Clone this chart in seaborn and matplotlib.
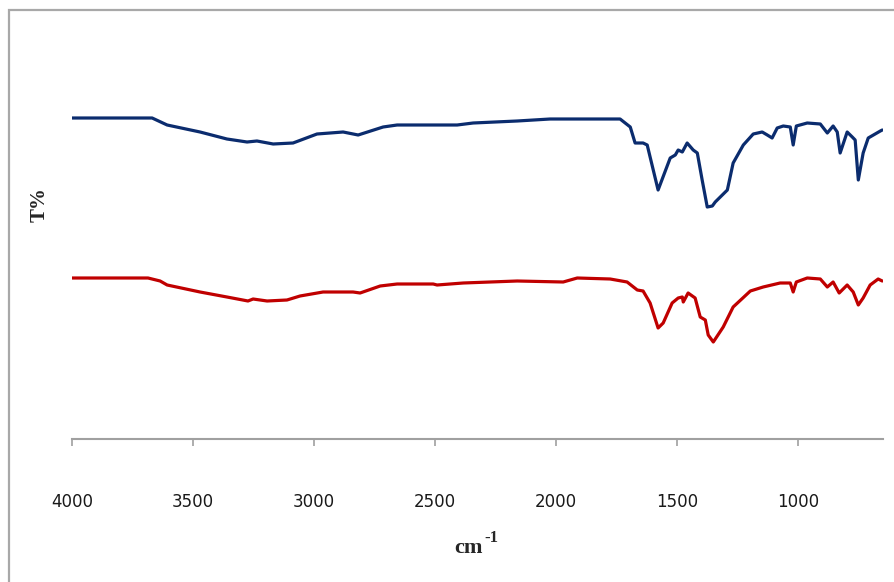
import matplotlib
matplotlib.use("Agg")
import matplotlib.pyplot as plt
import seaborn as sns
from matplotlib.patches import Rectangle

sns.set_theme(style="white")
plt.rcParams['font.family'] = ['DejaVu Sans']

# Upper (blue) spectrum: wavenumber (cm-1) and T (arbitrary offset units)
blue_wn = [4000, 3669, 3607, 3471, 3360, 3277, 3236, 3169, 3087, 2988, 2880, 2818,
           2715, 2657, 2409, 2343, 2161, 2025, 1901, 1736, 1694, 1674, 1641, 1624,
           1579, 1529, 1508, 1496, 1479, 1459, 1434, 1417, 1397, 1376, 1355, 1343,
           1293, 1269, 1227, 1186, 1149, 1128, 1108, 1087, 1062, 1033, 1021, 1008,
           963, 909, 880, 856, 839, 827, 798, 777, 765, 752, 732, 711, 661, 653]
blue_t = [80.25, 80.25, 78.5, 76.75, 75.0, 74.25, 74.5, 73.75, 74.0, 76.25, 76.75, 76.0,
          78.0, 78.5, 78.5, 79.0, 79.5, 80.0, 80.0, 80.0, 78.0, 74.0, 74.0, 73.5,
          62.25, 70.25, 71.0, 72.25, 71.75, 74.0, 72.25, 71.5, 64.75, 58.0, 58.25, 59.25,
          62.25, 69.0, 73.5, 76.25, 76.75, 76.0, 75.25, 77.75, 78.25, 78.0, 73.5, 78.25,
          79.0, 78.75, 76.5, 78.25, 76.75, 71.5, 76.75, 75.5, 74.75, 64.75, 71.5, 75.25, 77.0, 77.25]

# Lower (red) spectrum
red_wn = [4000, 3686, 3636, 3607, 3471, 3360, 3273, 3252, 3194, 3112, 3058, 2963,
          2839, 2810, 2727, 2657, 2508, 2492, 2384, 2161, 1971, 1913, 1777, 1707,
          1665, 1641, 1612, 1579, 1558, 1521, 1496, 1479, 1475, 1455, 1426, 1405,
          1384, 1372, 1351, 1310, 1269, 1198, 1145, 1075, 1033, 1021, 1008, 963,
          909, 880, 856, 831, 798, 773, 752, 732, 703, 670, 653]
red_t = [40.25, 40.25, 39.5, 38.5, 36.75, 35.5, 34.5, 35.0, 34.5, 34.75, 35.75, 36.75,
         36.75, 36.5, 38.25, 38.75, 38.75, 38.5, 39.0, 39.5, 39.25, 40.25, 40.0, 39.25,
         37.25, 37.0, 34.0, 27.75, 29.0, 34.0, 35.25, 35.5, 34.25, 36.5, 35.25, 30.5,
         29.75, 26.0, 24.25, 28.0, 33.0, 37.0, 38.0, 39.0, 39.0, 36.75, 39.25, 40.25,
         40.0, 38.0, 39.25, 36.5, 38.5, 36.75, 33.5, 35.25, 38.5, 40.0, 39.5]

xticks = [4000, 3500, 3000, 2500, 2000, 1500, 1000]

fig = plt.figure(figsize=(8.95, 5.82), dpi=100)
ax = fig.add_axes([72/895, 1-439/582, (883-72)/895, 400/582])

sns.lineplot(x=blue_wn, y=blue_t, ax=ax, color="#0b2c6e", linewidth=2.3, sort=False)
sns.lineplot(x=red_wn, y=red_t, ax=ax, color="#c00000", linewidth=2.3, sort=False)

ax.set_xlim(4000, 650)
ax.set_ylim(0, 100)
ax.set_xticks(xticks)
ax.set_xticklabels([str(t) for t in xticks], fontsize=12, color="#1a1a1a")
ax.set_yticks([])
for s in ["top", "right", "left"]:
    ax.spines[s].set_visible(False)
ax.spines["bottom"].set_color("#a0a0a0")
ax.spines["bottom"].set_linewidth(1.5)
ax.tick_params(axis="x", direction="out", length=5, width=1.2, color="#a0a0a0",
               pad=34, bottom=True)
ax.set_xlabel("")
ax.set_ylabel("")
ax.patch.set_alpha(0)

fig.text(483/895, 1-553/582, "cm", fontsize=16, fontweight="bold",
         family="Liberation Serif", ha="right", va="baseline")
fig.text(484/895, 1-542/582, "-1", fontsize=12, fontweight="bold",
         family="Liberation Serif", ha="left", va="baseline")
fig.text(40/895, 1-205/582, "T%", fontsize=15, fontweight="bold",
         family="Liberation Serif", ha="center", va="center", rotation=90)

fig.patches.append(Rectangle((9.5/895, -0.1), 1.2, 1.1 - 9.5/582,
                             transform=fig.transFigure, fill=False,
                             edgecolor="#a8a8a8", linewidth=1.6, zorder=0))

fig.savefig("out.png", dpi=100)
